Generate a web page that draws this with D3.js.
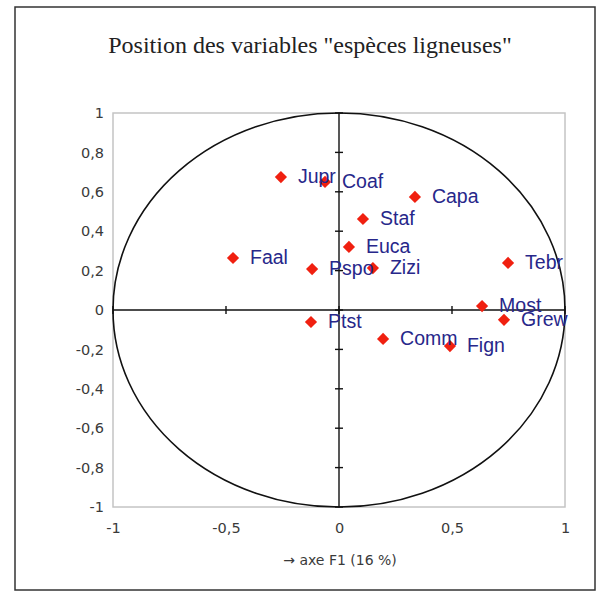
<!DOCTYPE html>
<html>
<head>
<meta charset="utf-8">
<script src="https://cdn.jsdelivr.net/npm/d3@7"></script>
<style>
  body { margin: 0; background: #fff; }
</style>
</head>
<body>
<div id="chart"></div>
<script>
// species (variables) and their coordinates on F1 / F2
var names = ["Jupr", "Coaf", "Capa", "Staf", "Euca", "Faal", "Pspo", "Zizi", "Tebr", "Most", "Grew", "Ptst", "Comm", "Fign"];
var f1 = [-0.257, -0.062, 0.336, 0.106, 0.044, -0.469, -0.119, 0.150, 0.748, 0.633, 0.730, -0.124, 0.195, 0.491];
var f2 = [0.675, 0.650, 0.574, 0.462, 0.320, 0.264, 0.208, 0.213, 0.239, 0.020, -0.050, -0.061, -0.147, -0.183];

var xTicks = [-1, -0.5, 0, 0.5, 1];
var yTicks = [-1, -0.8, -0.6, -0.4, -0.2, 0, 0.2, 0.4, 0.6, 0.8, 1];

var W = 601, H = 592;
var fmt = function(d){ return String(d).replace(".", ","); };

var svg = d3.select("#chart").append("svg")
  .attr("width", W)
  .attr("height", H);

// outer frame
svg.append("rect")
  .attr("x", 15).attr("y", 7)
  .attr("width", 580).attr("height", 583)
  .attr("fill", "#fff")
  .attr("stroke", "#333")
  .attr("stroke-width", 1.5);

svg.append("text")
  .attr("x", 310).attr("y", 53)
  .attr("text-anchor", "middle")
  .style("font-family", "'Liberation Serif', 'DejaVu Serif', serif")
  .style("font-size", "24px")
  .attr("fill", "#222")
  .text('Position des variables "espèces ligneuses"');

var x = d3.scaleLinear().domain([-1, 1]).range([113, 565]);
var y = d3.scaleLinear().domain([-1, 1]).range([507, 113]);

// plot area
svg.append("rect")
  .attr("x", x(-1)).attr("y", y(1))
  .attr("width", x(1) - x(-1)).attr("height", y(-1) - y(1))
  .attr("fill", "none")
  .attr("stroke", "#c4c4c4")
  .attr("stroke-width", 1.5);

// correlation circle
svg.append("ellipse")
  .attr("cx", x(0)).attr("cy", y(0))
  .attr("rx", x(1) - x(0)).attr("ry", y(-1) - y(0))
  .attr("fill", "none")
  .attr("stroke", "#111")
  .attr("stroke-width", 1.6);

// crosshair axes
svg.append("line")
  .attr("x1", x(-1)).attr("x2", x(1))
  .attr("y1", y(0)).attr("y2", y(0))
  .attr("stroke", "#111").attr("stroke-width", 1.4);
svg.append("line")
  .attr("x1", x(0)).attr("x2", x(0))
  .attr("y1", y(1)).attr("y2", y(-1))
  .attr("stroke", "#111").attr("stroke-width", 1.4);

svg.selectAll(".xt").data(xTicks).enter().append("line")
  .attr("x1", function(d){ return x(d); }).attr("x2", function(d){ return x(d); })
  .attr("y1", y(0) - 4).attr("y2", y(0) + 4)
  .attr("stroke", "#111").attr("stroke-width", 1.4);
svg.selectAll(".yt").data(yTicks).enter().append("line")
  .attr("x1", x(0) - 4).attr("x2", x(0) + 4)
  .attr("y1", function(d){ return y(d); }).attr("y2", function(d){ return y(d); })
  .attr("stroke", "#111").attr("stroke-width", 1.4);

// tick labels
var yAxis = svg.append("g")
  .attr("transform", "translate(" + x(-1) + ",0)")
  .call(d3.axisLeft(y).tickValues(yTicks).tickFormat(fmt).tickSize(0).tickPadding(9));
var xAxis = svg.append("g")
  .attr("transform", "translate(0," + y(-1) + ")")
  .call(d3.axisBottom(x).tickValues(xTicks).tickFormat(fmt).tickSize(0).tickPadding(16));
[yAxis, xAxis].forEach(function(g){
  g.select(".domain").remove();
  g.selectAll("text")
    .style("font-family", "'DejaVu Sans', sans-serif")
    .style("font-size", "14.5px")
    .attr("fill", "#3a3a3a");
});

svg.append("text")
  .attr("x", 340).attr("y", 565)
  .attr("text-anchor", "middle")
  .style("font-family", "'DejaVu Sans', sans-serif")
  .style("font-size", "14px")
  .attr("fill", "#3a3a3a")
  .text("→ axe F1 (16 %)");

// points
var pts = names.map(function(n, i){ return {name: n, a: f1[i], b: f2[i]}; });

svg.selectAll(".pt").data(pts).enter().append("path")
  .attr("class", "pt")
  .attr("d", d3.symbol().type(d3.symbolDiamond2).size(95))
  .attr("transform", function(d){ return "translate(" + x(d.a) + "," + y(d.b) + ")"; })
  .attr("fill", "#f02010");

svg.selectAll(".lbl").data(pts).enter().append("text")
  .attr("class", "lbl")
  .attr("x", function(d){ return x(d.a) + 17; })
  .attr("y", function(d){ return y(d.b) + 6; })
  .style("font-family", "'Liberation Sans', Arial, sans-serif")
  .style("font-size", "19.5px")
  .attr("fill", "#27278a")
  .text(function(d){ return d.name; });
</script>
</body>
</html>
